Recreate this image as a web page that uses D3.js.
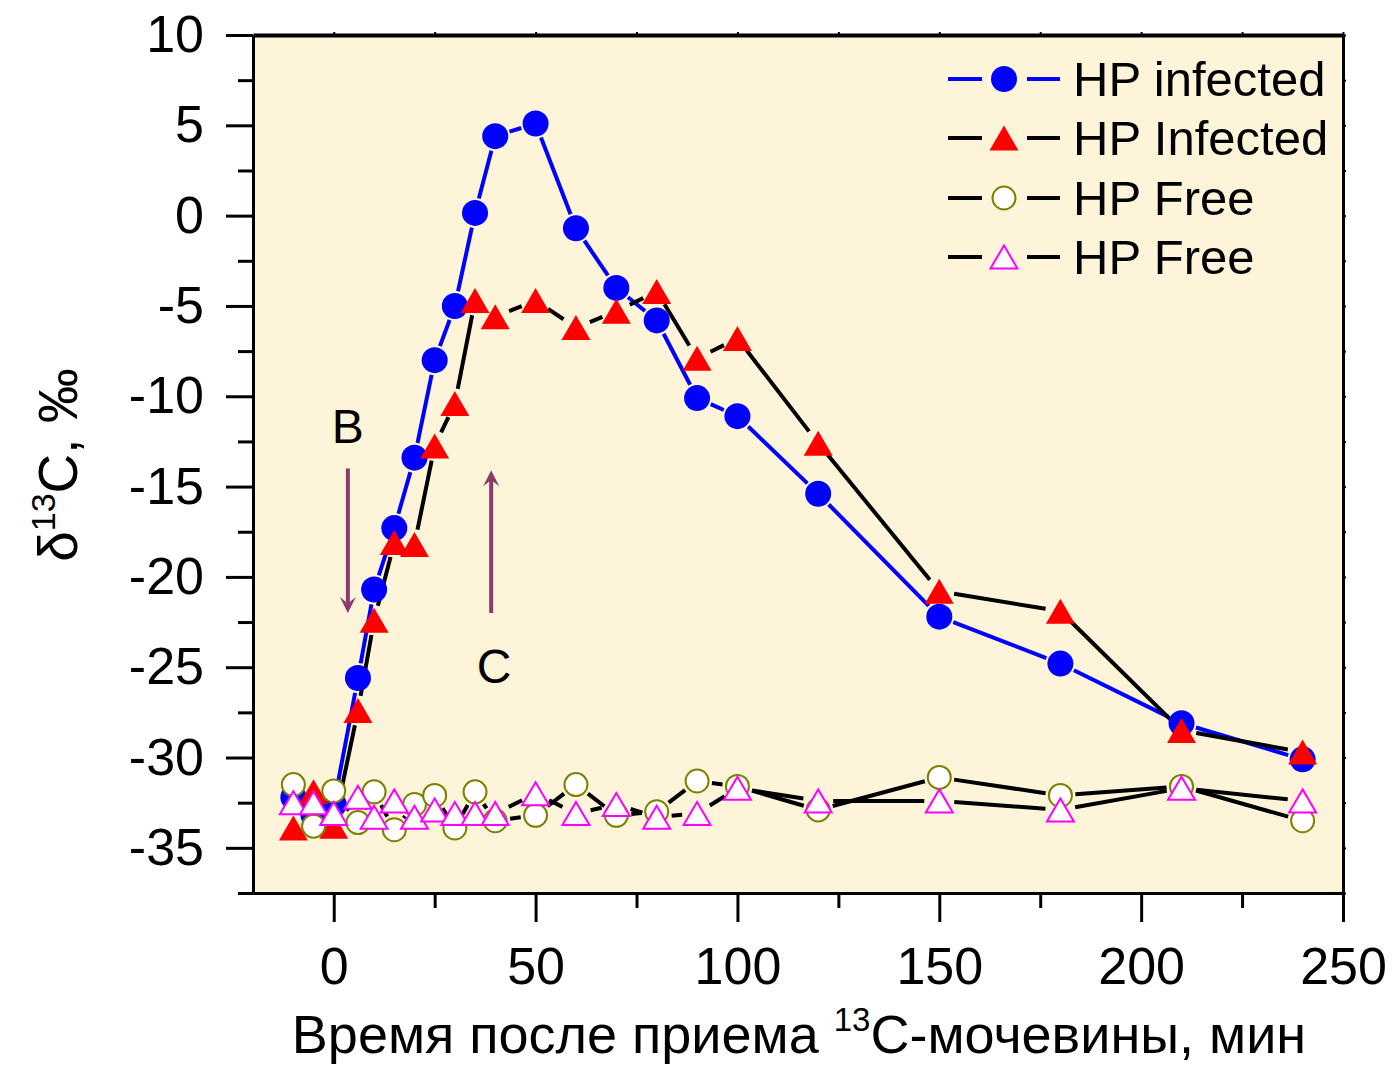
<!DOCTYPE html>
<html>
<head>
<meta charset="utf-8">
<script src="https://cdn.jsdelivr.net/npm/d3@7"></script>
<style>
  html, body { margin: 0; padding: 0; background: #ffffff; }
  svg { display: block; font-family: "Liberation Sans", Arial, sans-serif; }
</style>
</head>
<body>
<svg id="chart" width="1395" height="1066"></svg>
<script>
// Sampling times, minutes after 13C-urea intake
const times = [-10, -5, 0, 6, 10, 15, 20, 25, 30, 35, 40, 50, 60, 70, 80, 90, 100, 120, 150, 180, 210, 240];

// δ13C, ‰ for each subject
const infectedA = [-32.2, -33.2, -32.6, -25.6, -20.7, -17.3, -13.4, -8.0, -5.0, 0.15, 4.4, 5.1, -0.7, -4.0, -5.8, -10.1, -11.1, -15.4, -22.2, -24.8, -28.1, -30.1];
const infectedB = [-33.9, -31.9, -33.8, -27.4, -22.4, -18.1, -18.2, -12.75, -10.4, -4.7, -5.6, -4.7, -6.2, -5.3, -4.2, -7.9, -6.8, -12.6, -20.8, -21.9, -28.5, -29.7];
const freeA = [-31.5, -33.8, -31.85, -33.6, -31.9, -34.0, -32.6, -32.1, -33.9, -31.9, -33.5, -33.2, -31.5, -33.2, -33.0, -31.3, -31.6, -32.9, -31.1, -32.1, -31.6, -33.5];
const freeB = [-32.5, -32.5, -33.1, -32.2, -33.3, -32.4, -33.3, -32.9, -33.1, -33.1, -33.1, -32.0, -33.1, -32.6, -33.3, -33.1, -31.7, -32.4, -32.4, -32.9, -31.7, -32.4];

const seriesNames = ["HP infected", "HP Infected", "HP Free", "HP Free"];

// Axis ticks
const xMajorTicks = [0, 50, 100, 150, 200, 250];
const xMinorTicks = [25, 75, 125, 175, 225];
const yMajorTicks = [10, 5, 0, -5, -10, -15, -20, -25, -30, -35];
const yMinorTicks = [7.5, 2.5, -2.5, -7.5, -12.5, -17.5, -22.5, -27.5, -32.5, -37.5];

const plot = { left: 253, right: 1343, top: 35, bottom: 893 };

const svg = d3.select("#chart");
const x = d3.scaleLinear().domain([-20, 250]).range([plot.left, plot.right]);
const y = d3.scaleLinear().domain([-37.5, 10]).range([plot.bottom, plot.top]);

// plot background
svg.append("rect")
  .attr("x", plot.left).attr("y", plot.top)
  .attr("width", plot.right - plot.left).attr("height", plot.bottom - plot.top)
  .attr("fill", "#fdf4da");

// Marker shapes
const triPath = (w, h) => `M0,${-h / 2}L${w / 2},${h / 2}L${-w / 2},${h / 2}Z`;
const markers = {
  dot:    g => g.append("circle").attr("r", 13).attr("fill", "#0000ff"),
  tri:    g => g.append("path").attr("d", triPath(29, 25)).attr("fill", "#ff0000"),
  ring:   g => g.append("circle").attr("r", 11.5).attr("fill", "#ffffff").attr("stroke", "#808000").attr("stroke-width", 2),
  opentri:g => g.append("path").attr("d", triPath(27, 23)).attr("fill", "#ffffff").attr("stroke", "#ff00ff").attr("stroke-width", 2)
};

const series = [
  { name: seriesNames[0], values: infectedA, line: "#0000ff", marker: "dot" },
  { name: seriesNames[1], values: infectedB, line: "#000000", marker: "tri" },
  { name: seriesNames[2], values: freeA,     line: "#000000", marker: "ring" },
  { name: seriesNames[3], values: freeB,     line: "#000000", marker: "opentri" }
];

// Connecting lines with a gap around every marker
const gap = 15;
series.forEach(s => {
  const pts = times.map((t, i) => [x(t), y(s.values[i])]);
  const g = svg.append("g");
  for (let i = 0; i < pts.length - 1; i++) {
    const [x0, y0] = pts[i], [x1, y1] = pts[i + 1];
    const dx = x1 - x0, dy = y1 - y0, len = Math.hypot(dx, dy);
    if (len <= 2 * gap + 1) continue;
    const ux = dx / len, uy = dy / len;
    g.append("line")
      .attr("x1", x0 + ux * gap).attr("y1", y0 + uy * gap)
      .attr("x2", x1 - ux * gap).attr("y2", y1 - uy * gap)
      .attr("stroke", s.line).attr("stroke-width", 4).attr("stroke-linecap", "butt");
  }
});

// Markers
series.forEach(s => {
  const g = svg.append("g");
  times.forEach((t, i) => {
    const m = g.append("g").attr("transform", `translate(${x(t)},${y(s.values[i])})`);
    markers[s.marker](m);
  });
});

// Annotation arrows B (down) and C (up)
const arrowColor = "#8b3a6b";
function arrow(xv, yFrom, yTo) {
  const X = x(xv), Y0 = y(yFrom), Y1 = y(yTo);
  const dir = Y1 > Y0 ? 1 : -1;
  const headLen = 16, headHalf = 8;
  svg.append("line").attr("x1", X).attr("y1", Y0).attr("x2", X).attr("y2", Y1 - dir * headLen * 0.6)
    .attr("stroke", arrowColor).attr("stroke-width", 4);
  svg.append("path")
    .attr("d", `M${X},${Y1}L${X - headHalf},${Y1 - dir * headLen}L${X},${Y1 - dir * headLen * 0.6}L${X + headHalf},${Y1 - dir * headLen}Z`)
    .attr("fill", arrowColor);
}
arrow(3.5, -14, -22);
arrow(39, -22, -14.1);
svg.append("text").attr("x", x(3.5)).attr("y", y(-12.6)).attr("text-anchor", "middle")
  .attr("font-size", 48).text("B");
svg.append("text").attr("x", x(39.7)).attr("y", y(-25.9)).attr("text-anchor", "middle")
  .attr("font-size", 48).text("C");

// Axes
const axisG = svg.append("g");
function styleAxis(g) {
  g.selectAll("line, path").attr("stroke", "#000").attr("stroke-width", 3);
  g.selectAll("text").attr("font-size", 52).attr("fill", "#000").attr("font-family", "Liberation Sans, Arial, sans-serif");
}
// bottom
axisG.append("g").attr("transform", `translate(0,${plot.bottom})`)
  .call(d3.axisBottom(x).tickValues(xMajorTicks).tickSize(29).tickPadding(25).tickSizeOuter(0))
  .call(styleAxis);
axisG.append("g").attr("transform", `translate(0,${plot.bottom})`)
  .call(d3.axisBottom(x).tickValues(xMinorTicks).tickSize(15).tickFormat("").tickSizeOuter(0))
  .call(styleAxis);
// left
axisG.append("g").attr("transform", `translate(${plot.left},0)`)
  .call(d3.axisLeft(y).tickValues(yMajorTicks).tickSize(27).tickPadding(22).tickSizeOuter(0)
    .tickFormat(d => d < 0 ? "-" + Math.abs(d) : String(d)))
  .call(styleAxis);
axisG.append("g").attr("transform", `translate(${plot.left},0)`)
  .call(d3.axisLeft(y).tickValues(yMinorTicks).tickSize(15).tickFormat("").tickSizeOuter(0))
  .call(styleAxis);
// top and right frame with small outward ticks
axisG.append("g").attr("transform", `translate(0,${plot.top})`)
  .call(d3.axisTop(x).tickValues(xMajorTicks.concat(xMinorTicks)).tickSize(3).tickFormat("").tickSizeOuter(0))
  .call(g => { g.selectAll("line").attr("stroke", "#000").attr("stroke-width", 2); g.select(".domain").attr("stroke", "#000").attr("stroke-width", 4); });
axisG.append("g").attr("transform", `translate(${plot.right},0)`)
  .call(d3.axisRight(y).tickValues(yMajorTicks.concat(yMinorTicks)).tickSize(3).tickFormat("").tickSizeOuter(0))
  .call(g => { g.selectAll("line").attr("stroke", "#000").attr("stroke-width", 2); g.select(".domain").attr("stroke", "#000").attr("stroke-width", 3); });

// X axis title
const xt = svg.append("text").attr("x", 799).attr("y", 1053).attr("text-anchor", "middle")
  .attr("font-size", 54).attr("fill", "#000");
xt.append("tspan").text("Время после приема ");
xt.append("tspan").attr("font-size", 33).attr("dy", -22).text("13");
xt.append("tspan").attr("dy", 22).text("С-мочевины, мин");

// Y axis title
const yt = svg.append("text").attr("transform", "translate(77,465) rotate(-90)").attr("text-anchor", "middle")
  .attr("font-size", 55).attr("fill", "#000");
yt.append("tspan").text("δ");
yt.append("tspan").attr("font-size", 34).attr("dy", -22).text("13");
yt.append("tspan").attr("dy", 22).text("C,  ‰");

// Legend
const legendRows = [79, 138, 198, 257];
series.forEach((s, i) => {
  const ly = legendRows[i];
  const g = svg.append("g");
  g.append("line").attr("x1", 948).attr("x2", 982).attr("y1", ly).attr("y2", ly).attr("stroke", s.line).attr("stroke-width", 4);
  g.append("line").attr("x1", 1027).attr("x2", 1060).attr("y1", ly).attr("y2", ly).attr("stroke", s.line).attr("stroke-width", 4);
  markers[s.marker](g.append("g").attr("transform", `translate(1004,${ly})`));
  g.append("text").attr("x", 1073).attr("y", ly + 17).attr("font-size", 49).attr("fill", "#000").text(s.name);
});
</script>
</body>
</html>
